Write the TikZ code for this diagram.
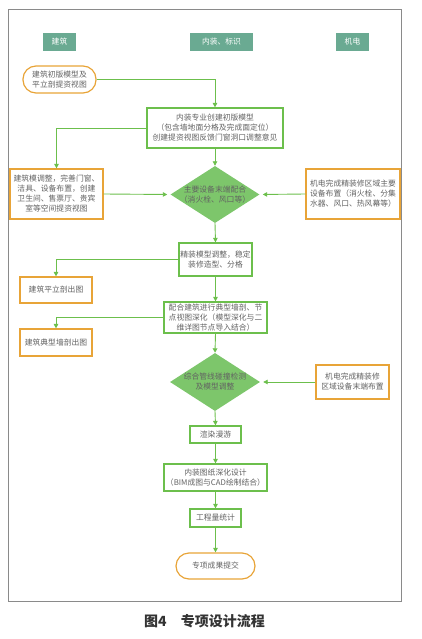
\documentclass[tikz,border=0pt]{standalone}
\usepackage{fontspec}
\setmainfont{Noto Sans CJK SC}
\usetikzlibrary{shapes.geometric,arrows.meta}
\definecolor{lgreen}{HTML}{6CBF4C}
\definecolor{lorange}{HTML}{E8A438}
\definecolor{dfill}{HTML}{7DC66B}
\definecolor{hfill}{HTML}{6AAA92}
\definecolor{tgray}{HTML}{626262}
\definecolor{fgray}{HTML}{8A8A8A}
\tikzset{
  base/.style={inner sep=0pt, align=center, text=tgray, font=\fontsize{7.8}{10}\selectfont, line width=1.2pt},
  gbox/.style={base, draw=lgreen, rectangle},
  obox/.style={base, draw=lorange, rectangle},
  oval/.style={base, draw=lorange, rectangle, rounded corners=13pt},
  hbox/.style={base, fill=hfill, text=white},
  dia/.style={diamond, fill=dfill, draw=none, inner sep=0pt},
  dtext/.style={base, line width=0pt},
  conn/.style={draw=lgreen, line width=0.9pt, -{Triangle[length=4.5pt,width=4.5pt]}},
}
\begin{document}
\begin{tikzpicture}[x=1pt,y=-1pt]
\useasboundingbox (0,0) rectangle (422,639);
\draw[fgray, line width=1pt] (8,10) rectangle (401,601);
% headers
\node[hbox, minimum width=33pt, minimum height=18pt] (h1) at (59.5,42) {建筑};
\node[hbox, minimum width=63pt, minimum height=18pt] (h2) at (221.5,42) {内装、标识};
\node[hbox, minimum width=33pt, minimum height=18pt] (h3) at (352.5,42) {机电};
% nodes
\node[oval, minimum width=73pt, minimum height=27pt] (start) at (59.5,79.5) {建筑初版模型及\\平立剖提资视图};
\node[gbox, minimum width=136pt, minimum height=40pt] (b1) at (215,128) {内装专业创建初版模型\\（包含墙地面分格及完成面定位）\\创建提资视图反馈门窗洞口调整意见};
\node[obox, minimum width=93pt, minimum height=50pt] (ba) at (56.5,194) {建筑模调整，完善门窗、\\洁具、设备布置，创建\\卫生间、售票厅、贵宾\\室等空间提资视图};
\node[dia, minimum width=89pt, minimum height=57pt] (d1) at (215,194.5) {};
\node[dtext] (d1t) at (d1.center) {主要设备末端配合\\（消火栓、风口等）};
\node[obox, minimum width=94pt, minimum height=50pt] (bb) at (353,194) {机电完成精装修区域主要\\设备布置（消火栓、分集\\水器、风口、热风幕等）};
\node[gbox, minimum width=73pt, minimum height=33pt] (b2) at (215.5,259.5) {精装模型调整，稳定\\装修造型、分格};
\node[obox, minimum width=72pt, minimum height=26pt] (bc) at (56,290) {建筑平立剖出图};
\node[gbox, minimum width=103pt, minimum height=31pt] (b3) at (215.5,317.5) {配合建筑进行典型墙剖、节\\点视图深化（模型深化与二\\维详图节点导入结合）};
\node[obox, minimum width=72pt, minimum height=27pt] (bd) at (56,342.5) {建筑典型墙剖出图};
\node[dia, minimum width=90pt, minimum height=58pt] (d2) at (215,382) {};
\node[dtext] (d2t) at (d2.center) {综合管线碰撞检测\\及模型调整};
\node[obox, minimum width=73pt, minimum height=34pt] (be) at (352.5,382) {机电完成精装修\\区域设备末端布置};
\node[gbox, minimum width=51pt, minimum height=17pt] (b4) at (215.5,434.5) {渲染漫游};
\node[gbox, minimum width=103pt, minimum height=27pt] (b5) at (215.5,477.5) {内装图纸深化设计\\（BIM成图与CAD绘制结合）};
\node[gbox, minimum width=51pt, minimum height=18pt] (b6) at (215.5,518) {工程量统计};
\node[oval, minimum width=79pt, minimum height=26pt] (end) at (215.5,566) {专项成果提交};
% connectors
\draw[conn] (start.east) -| (b1.north);
\draw[conn] (b1.west) -| (ba.north);
\draw[conn] (b1.south) -- (d1.north);
\draw[conn, shorten >=3pt] (ba.east) -- (d1.west);
\draw[conn, shorten >=3pt] (bb.west) -- (d1.east);
\draw[conn] (d1.south) -- (b2.north);
\draw[conn] (b2.west) -| (bc.north);
\draw[conn] (b2.south) -- (b3.north);
\draw[conn] (b3.west) -| (bd.north);
\draw[conn] (b3.south) -- (d2.north);
\draw[conn, shorten >=3pt] (be.west) -- (d2.east);
\draw[conn] (d2.south) -- (b4.north);
\draw[conn] (b4.south) -- (b5.north);
\draw[conn] (b5.south) -- (b6.north);
\draw[conn] (b6.south) -- (end.north);
% caption
\node[font=\fontsize{14}{16}\selectfont\bfseries, text=black!80, inner sep=0pt] (cap) at (204.5,621) {图4\hspace{1em}专项设计流程};
\end{tikzpicture}
\end{document}
